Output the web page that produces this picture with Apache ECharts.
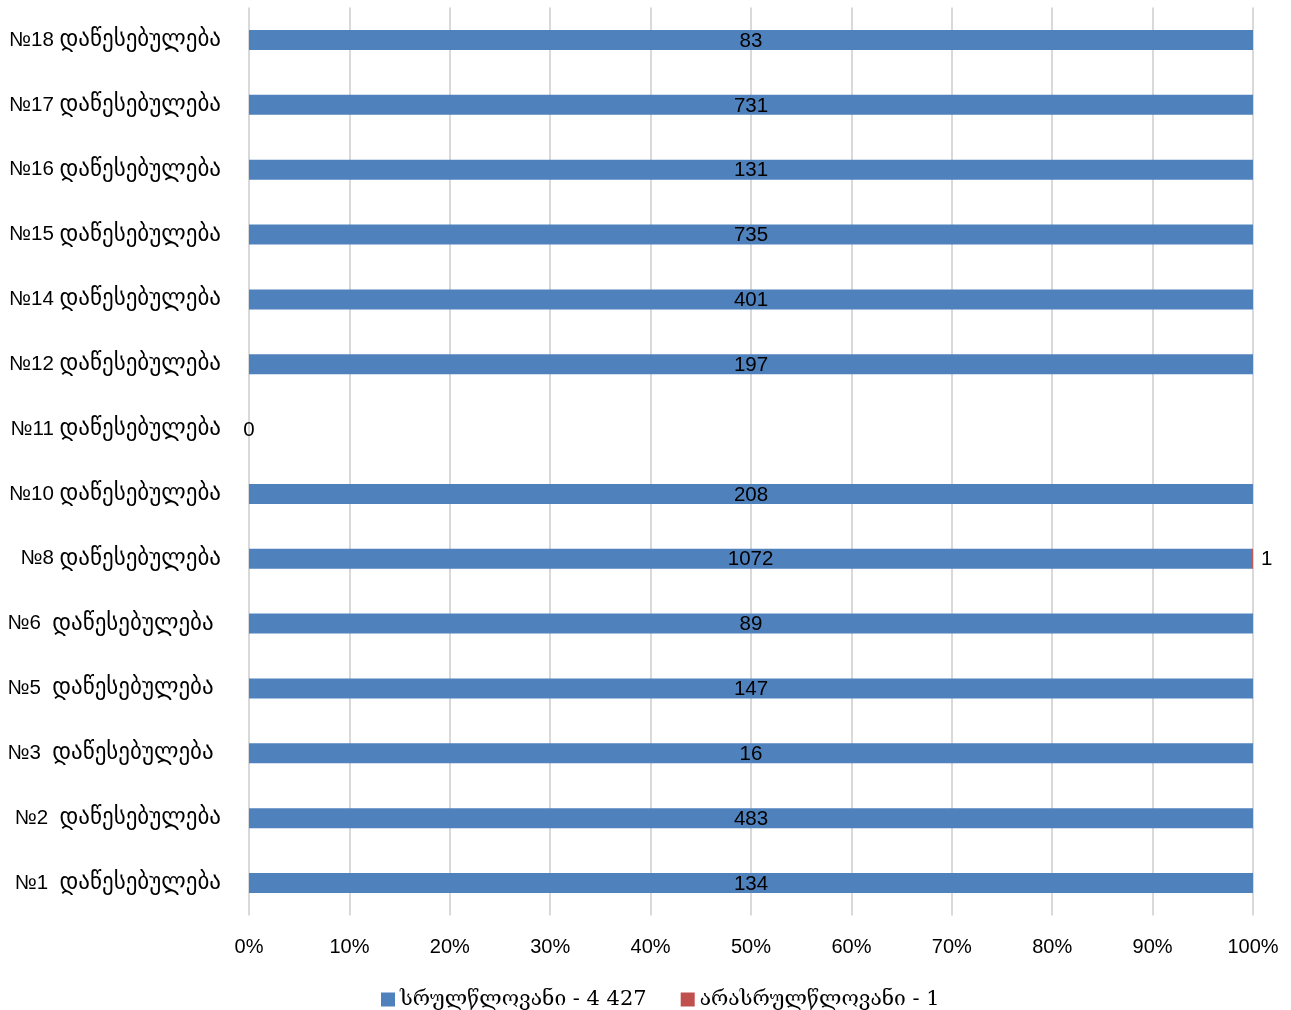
<!DOCTYPE html>
<html><head><meta charset="utf-8">
<script src="https://cdn.jsdelivr.net/npm/echarts@6/dist/echarts.min.js"></script>
<style>html,body{margin:0;padding:0;background:#fff}#c{width:1291px;height:1010px}</style>
</head><body><div id="c"></div>
<script>
const categories = ['№1  დაწესებულება','№2  დაწესებულება','№3  დაწესებულება ','№5  დაწესებულება ','№6  დაწესებულება ','№8 დაწესებულება','№10 დაწესებულება','№11 დაწესებულება','№12 დაწესებულება','№14 დაწესებულება','№15 დაწესებულება','№16 დაწესებულება','№17 დაწესებულება','№18 დაწესებულება'];
const adults = [134,483,16,147,89,1072,208,0,197,401,735,131,731,83];
const minors = [0,0,0,0,0,1,0,0,0,0,0,0,0,0];
const seriesNames = ['სრულწლოვანი - 4 427','არასრულწლოვანი - 1'];
const xTicks = ['0%','10%','20%','30%','40%','50%','60%','70%','80%','90%','100%'];

const totals = adults.map((v,i)=>v+minors[i]);
const pct = (arr)=>arr.map((v,i)=>totals[i]? v/totals[i]*100 : 0);
const geo = "'DejaVu Sans', sans-serif";
const num = "'Liberation Sans', Arial, sans-serif";

function catLabel(s){
  const k = s.indexOf('დ');
  return '{n|' + s.slice(0,k) + '}{g|' + s.slice(k) + '}';
}

const chart = echarts.init(document.getElementById('c'));
chart.setOption({
  animation:false,
  grid:{left:249,right:38,top:7.6,bottom:94.6,containLabel:false},
  xAxis:{type:'value',min:0,max:100,interval:10,
    axisLine:{show:false},axisTick:{show:false},
    splitLine:{show:true,lineStyle:{color:'#d9d9d9',width:2}},
    axisLabel:{formatter:(v)=>xTicks[Math.round(v/10)],color:'#000',fontSize:20,fontFamily:num,margin:22}},
  yAxis:{type:'category',data:categories,
    axisLine:{show:false},axisTick:{show:false},
    axisLabel:{color:'#000',margin:28,formatter:catLabel,
      rich:{n:{fontSize:20.5,fontFamily:num,color:'#000'},
            g:{fontSize:23,fontFamily:geo,color:'#000'}}}},
  legend:{top:984,left:376,itemWidth:14,itemHeight:14,itemGap:34,
    textStyle:{color:'#000',fontSize:21,fontFamily:"'DejaVu Serif', serif"},
    icon:'rect'},
  series:[
    {name:seriesNames[0],type:'bar',stack:'s',barWidth:20,data:pct(adults),
      itemStyle:{color:'#4f81bd'},
      label:{show:true,position:'inside',color:'#000',fontSize:20.5,fontFamily:num,offset:[0,1],
        formatter:(p)=>String(adults[p.dataIndex])}},
    {name:seriesNames[1],type:'bar',stack:'s',barWidth:20,data:pct(minors),
      itemStyle:{color:'#c0504d'},
      label:{show:true,position:'right',color:'#000',fontSize:20.5,fontFamily:num,distance:8,offset:[0,1],
        formatter:(p)=>minors[p.dataIndex]?String(minors[p.dataIndex]):''}}
  ]
});
</script></body></html>
